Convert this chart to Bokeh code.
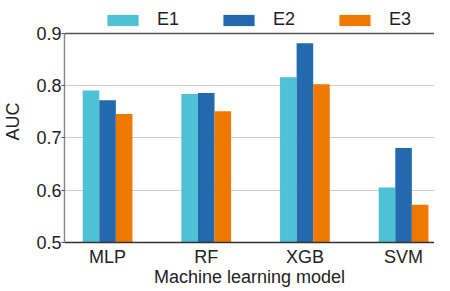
from bokeh.plotting import figure
from bokeh.models import ColumnDataSource, Legend, LegendItem, Span, FixedTicker
from bokeh.embed import file_html
from bokeh.resources import INLINE

models = ["MLP", "RF", "XGB", "SVM"]
series = ["E1", "E2", "E3"]
e1 = [0.791, 0.784, 0.816, 0.605]
e2 = [0.772, 0.786, 0.881, 0.681]
e3 = [0.746, 0.751, 0.803, 0.572]
colors = ["#4FC1D5", "#2369AD", "#EF7800"]
yticks = [0.5, 0.6, 0.7, 0.8, 0.9]

FONT = "Liberation Sans"
p = figure(width=434, height=289, output_backend="svg", toolbar_location=None,
           x_range=(-0.4365, 3.3135), y_range=(0.5, 0.963),
           min_border_left=56, min_border_right=0, min_border_top=0, min_border_bottom=0)
p.outline_line_color = None
p.background_fill_color = "white"

bw = 0.168
x = list(range(len(models)))
renderers = []
for i, (vals, c) in enumerate(zip([e1, e2, e3], colors)):
    src = ColumnDataSource(dict(x=[xi + (i - 1) * bw for xi in x], top=vals))
    r = p.vbar(x="x", top="top", bottom=0.5, width=bw, source=src,
               fill_color=c, line_color=None)
    renderers.append(r)

p.xgrid.visible = False
p.ygrid.grid_line_color = "#cccccc"
p.ygrid.grid_line_width = 1
p.yaxis.ticker = FixedTicker(ticks=yticks)
p.yaxis.bounds = (yticks[0], yticks[-1])
p.xaxis.ticker = FixedTicker(ticks=x)
p.xaxis.major_label_overrides = {i: m for i, m in enumerate(models)}

for ax in (p.xaxis, p.yaxis):
    ax.major_label_text_font = FONT
    ax.major_label_text_font_size = "18px"
    ax.major_label_text_color = "#222222"
    ax.axis_label_text_font = FONT
    ax.axis_label_text_font_size = "18px"
    ax.axis_label_text_font_style = "normal"
    ax.axis_label_text_color = "#222222"
    ax.minor_tick_line_color = None

p.xaxis.axis_label = "Machine learning model"
p.yaxis.axis_label = "AUC"
p.xaxis.major_tick_line_color = None
p.xaxis.axis_line_color = "#333333"
p.xaxis.axis_line_width = 1.5
p.xaxis.major_label_standoff = -2
p.xaxis.axis_label_standoff = -3
p.yaxis.axis_line_color = "#888888"
p.yaxis.axis_line_width = 1.5
p.yaxis.major_tick_line_color = "#555555"
p.yaxis.major_tick_out = 3
p.yaxis.major_tick_in = 0
p.yaxis.major_label_standoff = 0
p.yaxis.axis_label_standoff = 10

top = Span(location=yticks[-1], dimension="width", line_color="#555555", line_width=1.5)
p.add_layout(top)

legend = Legend(items=[LegendItem(label=s, renderers=[r]) for s, r in zip(series, renderers)],
                orientation="horizontal", location=(39, 212))
legend.glyph_width = 39
legend.glyph_height = 14
legend.label_standoff = 15
legend.spacing = 40
legend.padding = 0
legend.margin = 0
legend.border_line_color = None
legend.background_fill_alpha = 0
legend.label_text_font = FONT
legend.label_text_font_size = "18px"
legend.label_text_color = "#222222"
legend.label_height = 14
p.add_layout(legend, "center")

open("out.html", "w").write(file_html(p, INLINE))
